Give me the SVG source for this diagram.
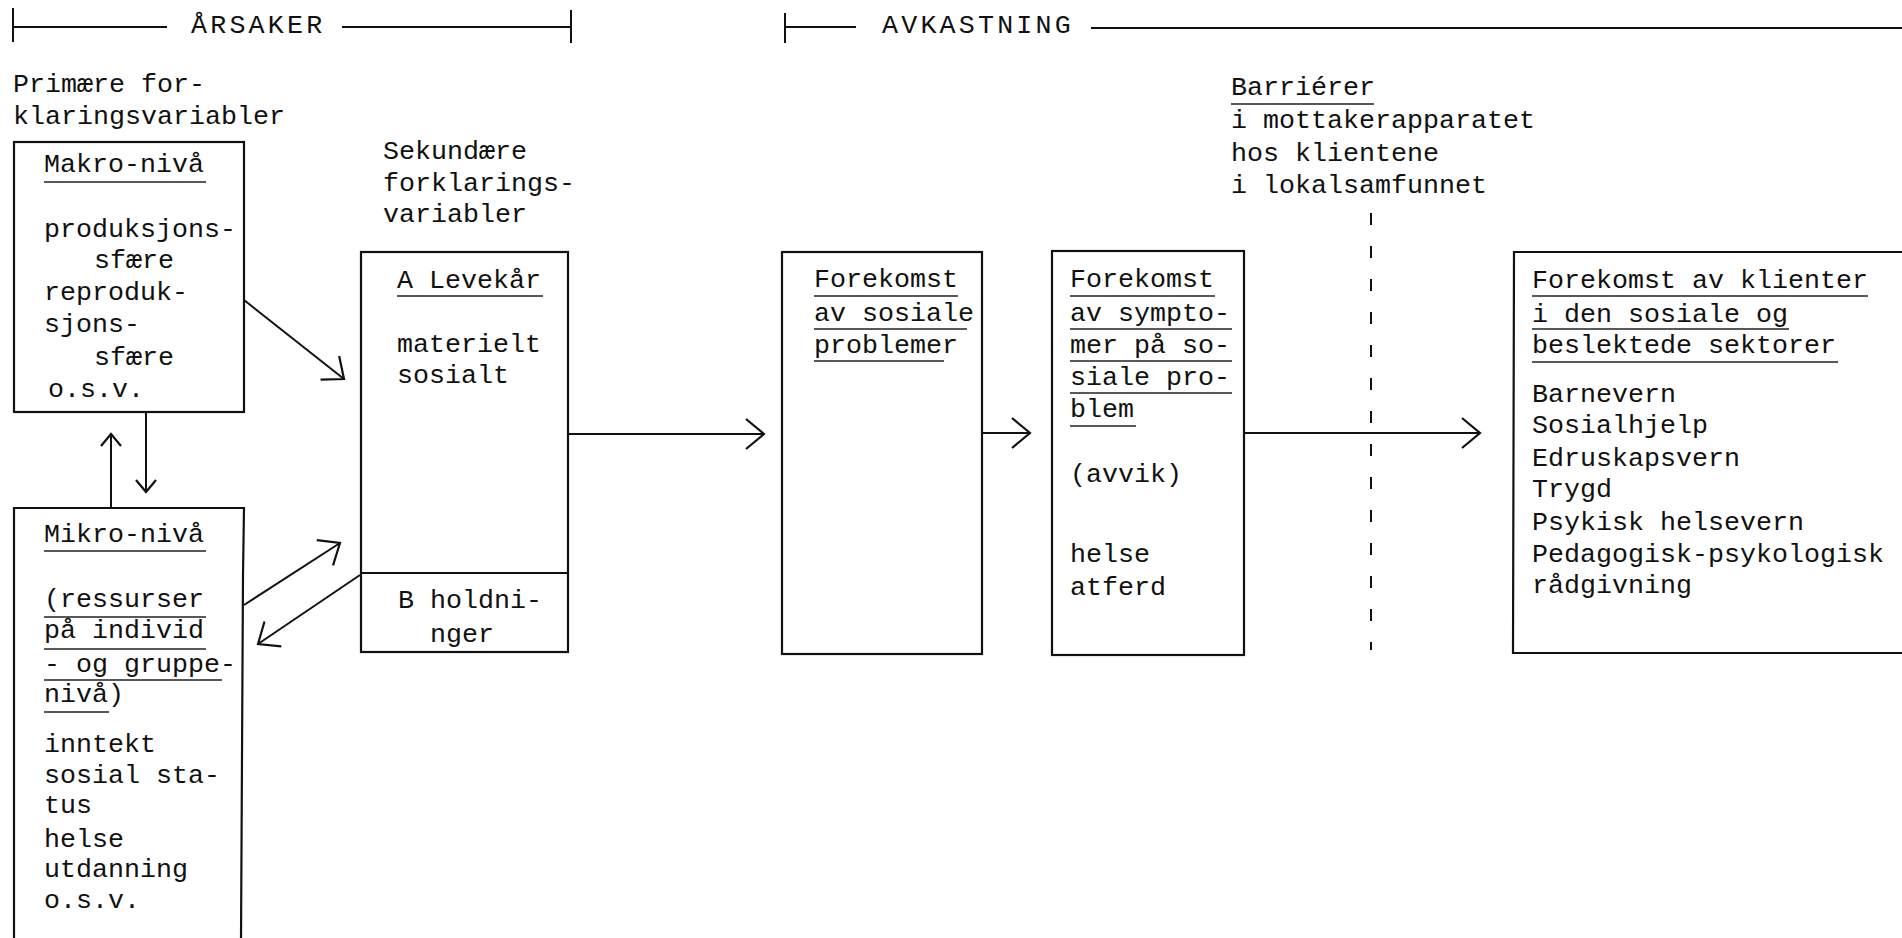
<svg xmlns="http://www.w3.org/2000/svg" width="1902" height="938" viewBox="0 0 1902 938">
<defs>
<style>
text{font-family:"Liberation Mono","DejaVu Sans Mono",monospace;font-size:26.67px;fill:#111;}
.hd{letter-spacing:3.2px;}
.box{fill:none;stroke:#111;stroke-width:2.2;}
.ul{stroke:#222;stroke-width:1.6;fill:none;}
.ln{stroke:#111;stroke-width:2;fill:none;}
.cn{stroke:#111;stroke-width:2;fill:none;}
.dash{stroke:#111;stroke-width:2;fill:none;stroke-dasharray:12 21;}
</style>
<marker id="ah" markerUnits="userSpaceOnUse" markerWidth="40" markerHeight="40" viewBox="-30 -20 40 40" refX="0" refY="0" orient="auto">
<path d="M -18 -15 L 0 0 L -18 15" fill="none" stroke="#111" stroke-width="2.2"/>
</marker>
<marker id="as" markerUnits="userSpaceOnUse" markerWidth="30" markerHeight="30" viewBox="-20 -15 30 30" refX="0" refY="0" orient="auto">
<path d="M -12 -10 L 0 0 L -12 10" fill="none" stroke="#111" stroke-width="2.2"/>
</marker>
</defs>
<rect width="1902" height="938" fill="#fff"/>

<g id="header-arsaker">
<line class="ln" x1="13" y1="8" x2="13" y2="42"/>
<line class="ln" x1="13" y1="27" x2="167" y2="27"/>
<text class="hd" x="191" y="33">ÅRSAKER</text>
<line class="ln" x1="342" y1="27" x2="571" y2="27"/>
<line class="ln" x1="571" y1="10" x2="571" y2="43"/>
</g>

<g id="header-avkastning">
<line class="ln" x1="785" y1="13" x2="785" y2="43"/>
<line class="ln" x1="785" y1="27" x2="856" y2="27"/>
<text class="hd" x="882" y="33">AVKASTNING</text>
<line class="ln" x1="1091" y1="28" x2="1902" y2="28"/>
</g>

<g id="label-primaere">
<text x="13" y="92">Primære for-</text>
<text x="13" y="124">klaringsvariabler</text>
</g>

<g id="node-makro">
<rect class="box" x="14" y="142" width="230" height="270"/>
<text x="44" y="172">Makro-nivå</text>
<line class="ul" x1="44" y1="182" x2="206" y2="182"/>
<text x="44" y="237">produksjons-</text>
<text x="94" y="268">sfære</text>
<text x="44" y="300">reproduk-</text>
<text x="44" y="332">sjons-</text>
<text x="94" y="365">sfære</text>
<text x="48" y="397">o.s.v.</text>
</g>

<g id="node-mikro">
<path class="box" d="M 14 940 L 14 508 L 244 508 L 243 575 L 241 940"/>
<text x="44" y="542">Mikro-nivå</text>
<line class="ul" x1="44" y1="551" x2="206" y2="551"/>
<text x="44" y="607">(ressurser</text>
<line class="ul" x1="44" y1="617" x2="206" y2="617"/>
<text x="44" y="638">på individ</text>
<line class="ul" x1="44" y1="649" x2="206" y2="649"/>
<text x="44" y="672">- og gruppe-</text>
<line class="ul" x1="44" y1="680" x2="222" y2="680"/>
<text x="44" y="702">nivå)</text>
<line class="ul" x1="44" y1="712" x2="109" y2="712"/>
<text x="44" y="752">inntekt</text>
<text x="44" y="783">sosial sta-</text>
<text x="44" y="813">tus</text>
<text x="44" y="847">helse</text>
<text x="44" y="877">utdanning</text>
<text x="44" y="908">o.s.v.</text>
</g>

<g id="label-sekundaere">
<text x="383" y="159">Sekundære</text>
<text x="383" y="191">forklarings-</text>
<text x="383" y="222">variabler</text>
</g>

<g id="node-levekar">
<rect class="box" x="361" y="252" width="207" height="400"/>
<line class="box" x1="361" y1="573" x2="568" y2="573"/>
<text x="397" y="288">A Levekår</text>
<line class="ul" x1="397" y1="296" x2="543" y2="296"/>
<text x="397" y="352">materielt</text>
<text x="397" y="383">sosialt</text>
<text x="398" y="608">B holdni-</text>
<text x="430" y="642">nger</text>
</g>

<g id="node-sosiale-problemer">
<rect class="box" x="782" y="252" width="200" height="402"/>
<text x="814" y="287">Forekomst</text>
<line class="ul" x1="814" y1="296" x2="958" y2="296"/>
<text x="814" y="321">av sosiale</text>
<line class="ul" x1="814" y1="329" x2="967" y2="329"/>
<text x="814" y="353">problemer</text>
<line class="ul" x1="814" y1="361" x2="944" y2="361"/>
</g>

<g id="node-symptomer">
<rect class="box" x="1052" y="251" width="192" height="404"/>
<text x="1070" y="287">Forekomst</text>
<line class="ul" x1="1070" y1="296" x2="1215" y2="296"/>
<text x="1070" y="321">av sympto-</text>
<line class="ul" x1="1070" y1="329" x2="1232" y2="329"/>
<text x="1070" y="353">mer på so-</text>
<line class="ul" x1="1070" y1="361" x2="1232" y2="361"/>
<text x="1070" y="385">siale pro-</text>
<line class="ul" x1="1070" y1="393" x2="1232" y2="393"/>
<text x="1070" y="417">blem</text>
<line class="ul" x1="1070" y1="426" x2="1136" y2="426"/>
<text x="1070" y="482">(avvik)</text>
<text x="1070" y="562">helse</text>
<text x="1070" y="595">atferd</text>
</g>

<g id="label-barrierer">
<text x="1231" y="95">Barriérer</text>
<line class="ul" x1="1231" y1="104" x2="1374" y2="104"/>
<text x="1231" y="128">i mottakerapparatet</text>
<text x="1231" y="161">hos klientene</text>
<text x="1231" y="193">i lokalsamfunnet</text>
</g>

<g id="node-klienter">
<path class="box" d="M 1904 252 L 1514 252 L 1513 653 L 1904 653"/>
<text x="1532" y="288">Forekomst av klienter</text>
<line class="ul" x1="1532" y1="296" x2="1868" y2="296"/>
<text x="1532" y="322">i den sosiale og</text>
<line class="ul" x1="1532" y1="329" x2="1789" y2="329"/>
<text x="1532" y="353">beslektede sektorer</text>
<line class="ul" x1="1532" y1="362" x2="1838" y2="362"/>
<text x="1532" y="402">Barnevern</text>
<text x="1532" y="433">Sosialhjelp</text>
<text x="1532" y="466">Edruskapsvern</text>
<text x="1532" y="497">Trygd</text>
<text x="1532" y="530">Psykisk helsevern</text>
<text x="1532" y="562">Pedagogisk-psykologisk</text>
<text x="1532" y="593">rådgivning</text>
</g>

<g id="connectors">
<line class="cn" x1="111" y1="508" x2="111" y2="434" marker-end="url(#as)"/>
<line class="cn" x1="146" y1="412" x2="146" y2="492" marker-end="url(#as)"/>
<line class="cn" x1="244" y1="300" x2="344" y2="379" marker-end="url(#ah)"/>
<line class="cn" x1="244" y1="605" x2="340" y2="543" marker-end="url(#ah)"/>
<line class="cn" x1="360" y1="575" x2="258" y2="644" marker-end="url(#ah)"/>
<line class="cn" x1="568" y1="434" x2="764" y2="434" marker-end="url(#ah)"/>
<line class="cn" x1="982" y1="433" x2="1030" y2="433" marker-end="url(#ah)"/>
<line class="cn" x1="1244" y1="433" x2="1480" y2="433" marker-end="url(#ah)"/>
<line class="dash" x1="1371" y1="213" x2="1371" y2="650"/>
</g>
</svg>
